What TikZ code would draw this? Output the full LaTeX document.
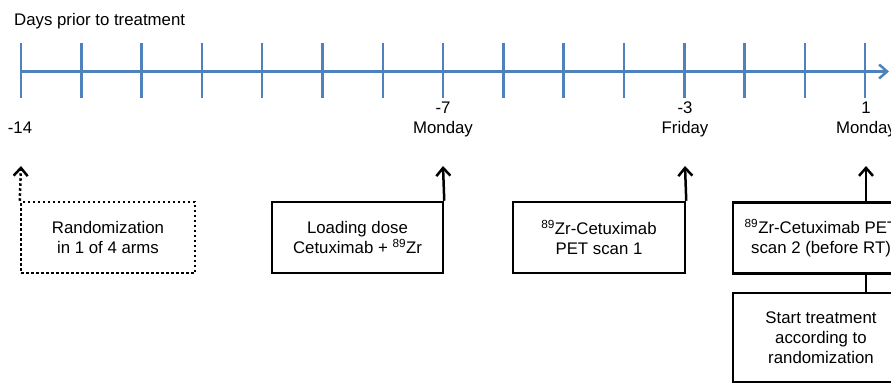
\documentclass[tikz,border=0pt]{standalone}
\usepackage{fontspec}
\setmainfont{Liberation Sans}
\usetikzlibrary{arrows.meta}
\definecolor{axisblue}{HTML}{4F81BD}

\begin{document}
\begin{tikzpicture}[x=1pt, y=-1pt,
  event/.style={draw, line width=2.5pt, align=center, inner sep=0pt,
    minimum height=71pt, font=\fontsize{16.8}{20}\selectfont},
  plain/.style={align=center, inner sep=0pt, font=\fontsize{16.8}{20}\selectfont},
  axis/.style={axisblue, line width=2.5pt},
  up/.style={-{Straight Barb[length=8pt, width=14pt]}}]

\useasboundingbox (0,0) rectangle (891,383);
\clip (0,0) rectangle (891,383);

\node[plain, anchor=base west] (title) at (14,25) {Days prior to treatment};

% time axis
\draw[axis, up] (21,71.5) -- (889,71.5);
\foreach \k in {0,...,14}
  \draw[axis] (21+60.3*\k,43) -- (21+60.3*\k,98);

% day labels
\node[plain, anchor=base] (l14) at (20,133) {-14};
\node[plain, anchor=base] (l7) at (443,133) {-7\\Monday};
\node[plain, anchor=base] (l3) at (685,133) {-3\\Friday};
\node[plain, anchor=base] (l1) at (866,133) {1\\Monday};

\coordinate (d14) at (21,166);
\coordinate (d7) at (443,166);
\coordinate (d3) at (685,166);
\coordinate (d1) at (866,166);

% events
\node[event, minimum width=174pt, dash pattern=on 2.5pt off 2.5pt] (rand) at (108,237.5) {Randomization\\in 1 of 4 arms};
\node[event, minimum width=171pt] (load) at (357.5,237.5) {Loading dose\\Cetuximab + \textsuperscript{89}Zr};
\node[event, minimum width=172pt] (scan1) at (599,237.5) {\textsuperscript{89}Zr-Cetuximab\\PET scan 1};
\node[event, minimum width=176pt] (scan2) at (821,238) {\textsuperscript{89}Zr-Cetuximab PET\\scan 2 (before RT)};
\node[event, minimum width=176pt, minimum height=89pt] (start) at (821,337.5) {Start treatment\\according to\\randomization};

\begin{scope}[line width=2.5pt]
\draw[up, dash pattern=on 2.5pt off 2.5pt] (rand.north west) -- (d14);
\draw[up] (load.north east) -- (d7);
\draw[up] (scan1.north east) -- (d3);
\draw[up] (scan2.north -| d1) -- (d1);
\draw (scan2.south -| d1) -- (start.north -| d1);
\end{scope}
\end{tikzpicture}
\end{document}
